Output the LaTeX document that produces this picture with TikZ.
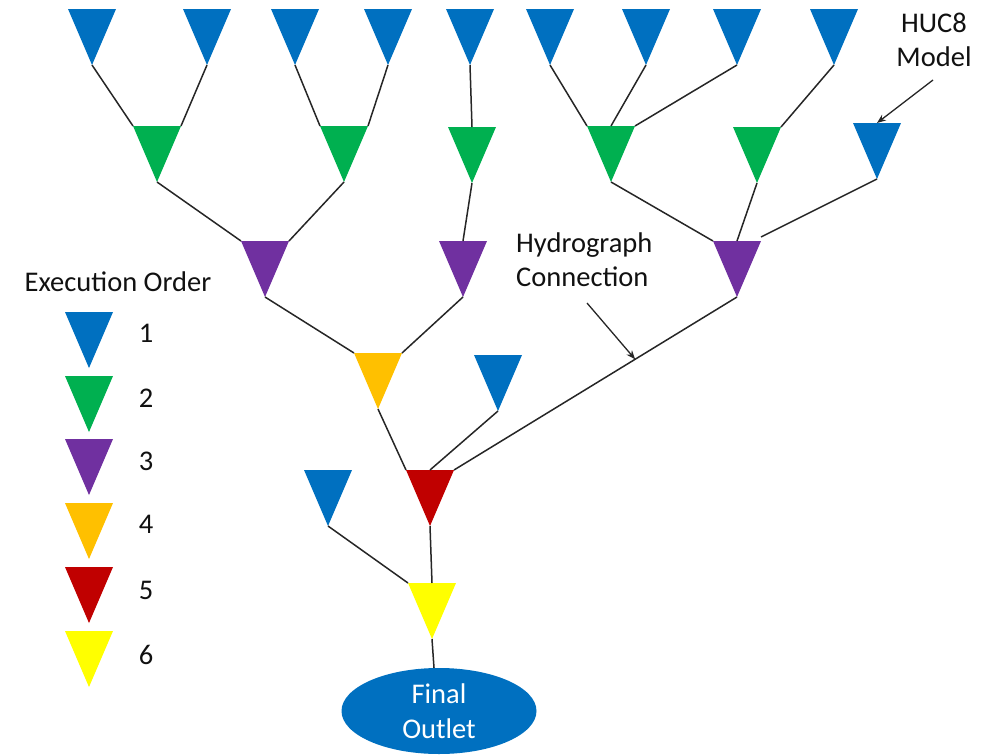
\documentclass[tikz,border=0pt]{standalone}
\usepackage{fontspec}
\setmainfont{Carlito}
\usetikzlibrary{arrows.meta,shapes.geometric,calc}
\definecolor{cBlue}{HTML}{0070C0}
\definecolor{cGreen}{HTML}{00B050}
\definecolor{cPurple}{HTML}{7030A0}
\definecolor{cOrange}{HTML}{FFC000}
\definecolor{cRed}{HTML}{C00000}
\definecolor{cYellow}{HTML}{FFFF00}
\definecolor{cText}{HTML}{111111}
\tikzset{
  tri/.style={minimum width=48pt, minimum height=56pt, inner sep=0pt, outer sep=0pt,
    path picture={\fill[#1] (path picture bounding box.north west) -- (path picture bounding box.north east) -- (path picture bounding box.south) -- cycle;}},
  link/.style={draw=black!85, line width=1.5pt},
  lbl/.style={text=cText, font=\fontsize{28.5}{34}\selectfont, inner sep=0pt},
  callout/.style={draw=black!85, line width=1.3pt, -{Stealth[length=9pt,width=7pt]}}
}
\begin{document}
\begin{tikzpicture}[x=1pt,y=-1pt]
\useasboundingbox (0,0) rectangle (983,755);
% top row
\node[tri=cBlue] (t1) at (92,37) {};
\node[tri=cBlue] (t2) at (207,37) {};
\node[tri=cBlue] (t3) at (295,37) {};
\node[tri=cBlue] (t4) at (388,37) {};
\node[tri=cBlue] (t5) at (470,37) {};
\node[tri=cBlue] (t6) at (550,37) {};
\node[tri=cBlue] (t7) at (646,37) {};
\node[tri=cBlue] (t8) at (737,37) {};
\node[tri=cBlue] (t9) at (834,37) {};
% second row
\node[tri=cGreen] (g1) at (157,154) {};
\node[tri=cGreen] (g2) at (344,154) {};
\node[tri=cGreen] (g3) at (472,155) {};
\node[tri=cGreen] (g4) at (611,154) {};
\node[tri=cGreen] (g5) at (757,155) {};
\node[tri=cBlue] (bh) at (877,151) {};
% third row
\node[tri=cPurple] (p1) at (265,269) {};
\node[tri=cPurple] (p2) at (463,269) {};
\node[tri=cPurple] (p3) at (737,269) {};
% lower
\node[tri=cOrange] (o1) at (378,381) {};
\node[tri=cBlue] (bm) at (498,383) {};
\node[tri=cRed] (r1) at (430,498) {};
\node[tri=cBlue] (bl) at (328,498) {};
\node[tri=cYellow] (y1) at (432,611) {};
\node[ellipse, fill=cBlue, minimum width=195pt, minimum height=86pt, inner sep=0pt, text=white,
  font=\fontsize{28.5}{35}\selectfont, align=center] (out) at (439,711) {Final\\Outlet};
% connectors
\draw[link] (t1.south) -- (g1.north west);
\draw[link] (t2.south) -- (g1.north east);
\draw[link] (t3.south) -- (g2.north west);
\draw[link] (t4.south) -- (g2.north east);
\draw[link] (t5.south) -- (g3.north);
\draw[link] (g1.south) -- (p1.north west);
\draw[link] (g2.south) -- (p1.north east);
\draw[link] (g3.south) -- (p2.north);
\draw[link] (t6.south) -- (g4.north west);
\draw[link] (t7.south) -- (g4.north);
\draw[link] (t8.south) -- (g4.north east);
\draw[link] (t9.south) -- (g5.north east);
\draw[link] (g4.south) -- (p3.north west);
\draw[link] (g5.south) -- (p3.north);
\draw[link] (bh.south) -- ([yshift=4pt]p3.north east);
\draw[link] (p1.south) -- (o1.north west);
\draw[link] (p2.south) -- (o1.north east);
\draw[link] (o1.south) -- (r1.north west);
\draw[link] (bm.south) -- (r1.north);
\draw[link] (p3.south) -- (r1.north east);
\draw[link] (bl.south) -- (y1.north west);
\draw[link] (r1.south) -- (y1.north);
\draw[link] (y1.south) -- ([xshift=-5pt]out.north);
% legend
\node[lbl] (legtitle) at (118,282) {Execution Order};
\node[tri=cBlue]   (l1) at (89,340) {};
\node[tri=cGreen]  (l2) at (89,404) {};
\node[tri=cPurple] (l3) at (89,467) {};
\node[tri=cOrange] (l4) at (89,531) {};
\node[tri=cRed]    (l5) at (89,595) {};
\node[tri=cYellow] (l6) at (89,659) {};
\node[lbl] (n1) at (146,333) {1};
\node[lbl] (n2) at (146,398) {2};
\node[lbl] (n3) at (146,461) {3};
\node[lbl] (n4) at (146,524) {4};
\node[lbl] (n5) at (146,590) {5};
\node[lbl] (n6) at (146,655) {6};
% annotations
\node[lbl, align=center] (huc) at (934,40) {HUC8\\Model};
\coordinate (hucstart) at (933,80);
\draw[callout] (hucstart) -- (bh.north);
\node[lbl, align=left, anchor=west] (hyd) at (516,260) {Hydrograph\\Connection};
\coordinate (hydstart) at (587,303);
\coordinate (hydend) at ($(p3.south)!0.36!(r1.north east)$);
\draw[callout] (hydstart) -- (hydend);
\end{tikzpicture}
\end{document}
